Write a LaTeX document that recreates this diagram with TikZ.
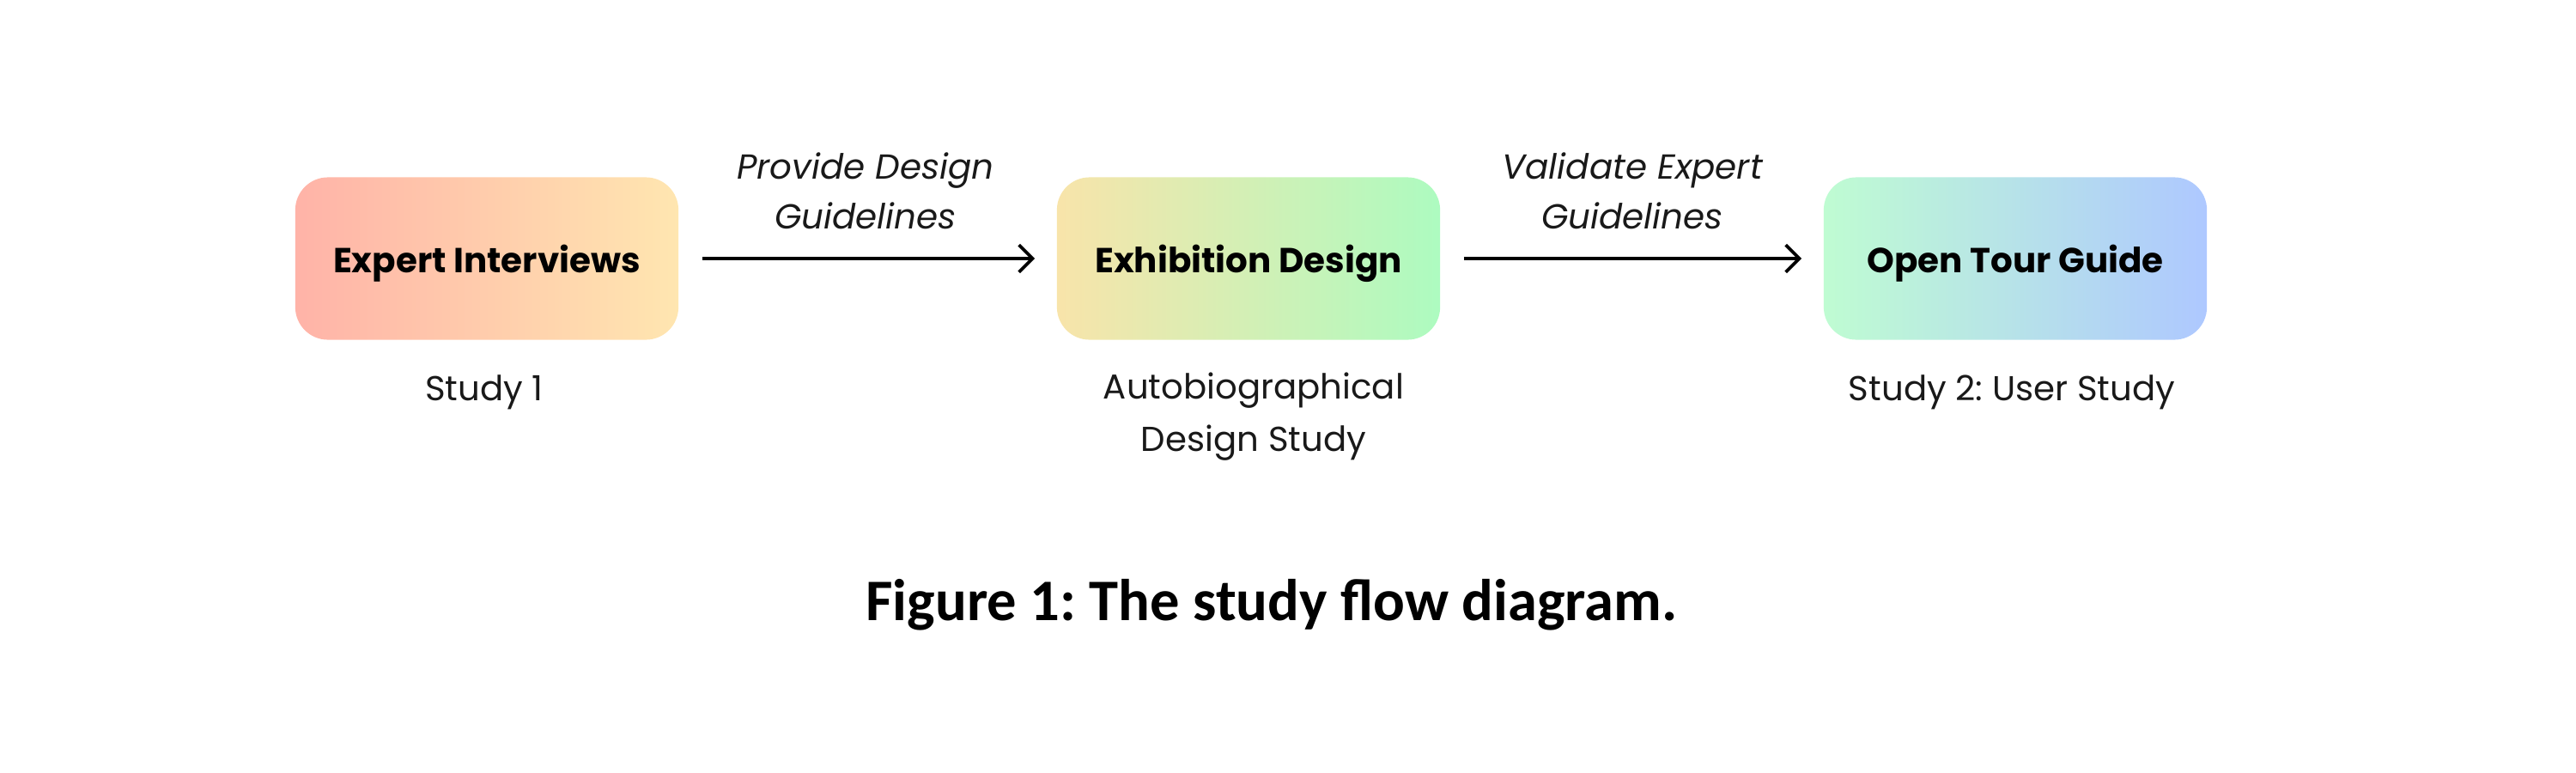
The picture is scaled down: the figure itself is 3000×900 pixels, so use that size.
\documentclass[tikz,border=0pt]{standalone}
\usepackage{fontspec}
\setmainfont{Poppins}
\newfontfamily\capfont{Carlito}
\usetikzlibrary{arrows.meta}
\frenchspacing
\definecolor{aL}{HTML}{FFB3A8}
\definecolor{aR}{HTML}{FFE6B0}
\definecolor{bL}{HTML}{F8E4AA}
\definecolor{bR}{HTML}{ADFBC0}
\definecolor{cL}{HTML}{BFFCD2}
\definecolor{cR}{HTML}{AEC8FF}
\tikzset{
  stagebox/.style={rectangle, rounded corners=10.8pt, minimum width=4.46cm, minimum height=1.89cm,
    font=\fontsize{11.5}{14}\selectfont\bfseries, text=black, inner sep=0pt, text depth=0pt},
  flowarrow/.style={-{Straight Barb[length=4.5pt,width=9pt,line width=1.05pt]}, line width=1.05pt, black,
    shorten <=0.27cm, shorten >=0.25cm},
  arrowlabel/.style={align=center, font=\fontsize{11.5}{16.5}\selectfont\itshape, text=black!90},
  sublabel/.style={align=center, font=\fontsize{11.45}{17.5}\selectfont, text=black!90},
  captionstyle/.style={font=\fontsize{19.5}{22}\selectfont\capfont\bfseries, text=black}
}
\begin{document}
\begin{tikzpicture}[x=0.01cm,y=-0.01cm]
\useasboundingbox (0,0) rectangle (3000,900);
\node[stagebox, left color=aL, right color=aR] (b1) at (567,301) {Expert Interviews};
\node[stagebox, left color=bL, right color=bR] (b2) at (1454,301) {Exhibition Design};
\node[stagebox, left color=cL, right color=cR] (b3) at (2347,301) {Open Tour Guide};
\draw[flowarrow] (b1) -- (b2);
\draw[flowarrow] (b2) -- (b3);
\node[arrowlabel] (l1) at (1008,222) {Provide Design\\Guidelines};
\node[arrowlabel] (l2) at (1901,222) {Validate Expert\\Guidelines};
\node[sublabel] (s1) at (564,457) {Study 1};
\node[sublabel] (s2) at (1460,485) {Autobiographical\\Design Study};
\node[sublabel] (s3) at (2343,457) {Study 2: User Study};
\node[captionstyle] (cap) at (1481,704) {Figure 1: The study flow diagram.};
\end{tikzpicture}
\end{document}
